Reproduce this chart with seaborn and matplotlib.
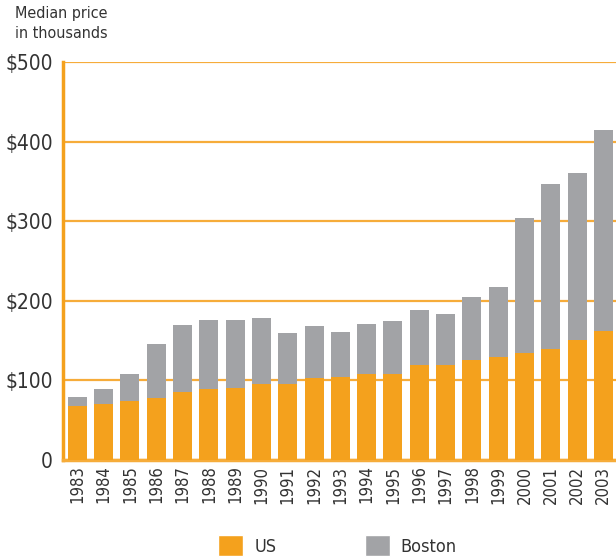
import pandas as pd
import matplotlib.pyplot as plt
import seaborn as sns
from matplotlib.patches import Patch

# Median home price, thousands of dollars
years = [str(y) for y in range(1983, 2004)]
us_price = [68, 71, 74, 78, 86, 89, 91, 96, 96, 103, 104, 108, 108,
            119, 119, 126, 129, 134, 140, 151, 162]
boston_price = [79, 89, 108, 146, 170, 176, 176, 178, 160, 169, 161, 171, 175,
                188, 184, 205, 217, 304, 347, 360, 415]
y_ticks = [0, 100, 200, 300, 400, 500]
y_labels = ["0", "$100", "$200", "$300", "$400", "$500"]

ORANGE = "#F4A11D"
GRID = "#F6AC3A"
GRAY = "#A2A3A6"
TEXT = "#333333"

df = pd.DataFrame({"year": years, "US": us_price, "Boston": boston_price})

sns.set_style("white")
plt.rcParams["font.family"] = ["DejaVu Sans"]
plt.rcParams["font.stretch"] = "condensed"

fig = plt.figure(figsize=(6.16, 5.59), dpi=100)
ax = fig.add_axes([0.102, 0.177, 0.898, 0.712])

# Boston behind, US in front (overlapping bars)
sns.barplot(data=df, x="year", y="Boston", color=GRAY, width=0.72,
            saturation=1, linewidth=0, ax=ax, zorder=2)
sns.barplot(data=df, x="year", y="US", color=ORANGE, width=0.72,
            saturation=1, linewidth=0, ax=ax, zorder=3)

ax.set_ylim(0, 500)
ax.set_xlim(-0.55, len(years) - 0.52)
ax.set_yticks(y_ticks)
ax.set_yticklabels(y_labels, fontsize=15, color=TEXT)
ax.tick_params(axis="x", rotation=90, labelsize=12, labelcolor=TEXT,
               length=0, pad=4)
ax.tick_params(axis="y", length=0, pad=7)
ax.set_xlabel("")
ax.set_ylabel("")

ax.yaxis.grid(True, color=GRID, linewidth=1.6)
ax.set_axisbelow(True)
for side in ["top", "right"]:
    ax.spines[side].set_visible(False)
ax.spines["left"].set_color(ORANGE)
ax.spines["left"].set_linewidth(2.5)
ax.spines["bottom"].set_color(GRID)
ax.spines["bottom"].set_linewidth(2.5)

fig.text(0.024, 0.99, "Median price\nin thousands", fontsize=11.5,
         color=TEXT, va="top", ha="left", linespacing=1.45)

handles = [Patch(facecolor=ORANGE, label="US"),
           Patch(facecolor=GRAY, label="Boston")]
fig.legend(handles=handles, loc="lower center", ncol=2, frameon=False,
           bbox_to_anchor=(0.548, -0.024), fontsize=13,
           handlelength=1.4, handleheight=1.4, columnspacing=4.9,
           handletextpad=0.6, labelcolor=TEXT)

fig.savefig("out.png", dpi=100)
